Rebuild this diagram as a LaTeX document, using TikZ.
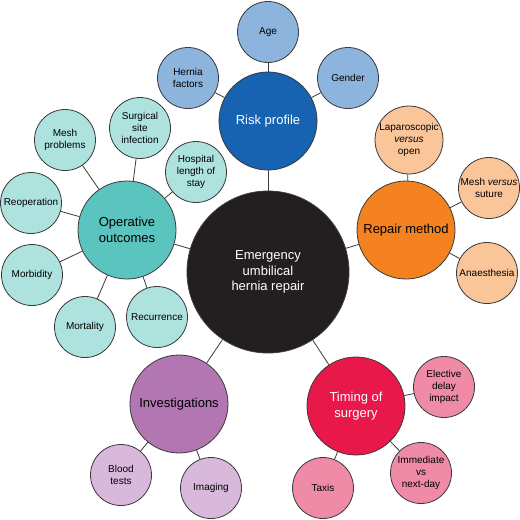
\documentclass[tikz,border=0pt]{standalone}
\usepackage{fontspec}
\setmainfont{Liberation Sans}
\definecolor{riskdark}{HTML}{1763B1}
\definecolor{risklight}{HTML}{8DB4DD}
\definecolor{opdark}{HTML}{5CC4BE}
\definecolor{oplight}{HTML}{AEE2DE}
\definecolor{repdark}{HTML}{F58220}
\definecolor{replight}{HTML}{FBC59A}
\definecolor{timdark}{HTML}{E8184A}
\definecolor{timlight}{HTML}{F08BA7}
\definecolor{invdark}{HTML}{B276B3}
\definecolor{invlight}{HTML}{D9B9DB}
\definecolor{hubblack}{HTML}{231F20}
\definecolor{edgegray}{HTML}{3A3A3A}
\tikzset{
  bub/.style={circle, draw=edgegray, line width=0.8pt, inner sep=0pt, align=center},
  leaf/.style={bub, minimum size=61pt, font=\fontsize{10}{12}\selectfont, text=black},
  hub/.style={bub, minimum size=98pt, font=\fontsize{13}{15.5}\selectfont},
  core/.style={bub, minimum size=162pt, fill=hubblack, text=white, font=\fontsize{13}{15.5}\selectfont},
  link/.style={draw=edgegray, line width=0.8pt}
}
\begin{document}
\begin{tikzpicture}[x=1pt,y=-1pt]
\useasboundingbox (0,0) rectangle (520,520);
% centre
\node[core] (C) at (268,272) {Emergency\\umbilical\\hernia repair};
% risk profile
\node[hub, fill=riskdark, text=white] (risk) at (268,121) {Risk profile};
\node[leaf, fill=risklight] (age) at (268,32) {Age};
\node[leaf, fill=risklight] (gender) at (348,78) {Gender};
\node[leaf, fill=risklight] (hernia) at (188,78) {Hernia\\factors};
% operative outcomes
\node[hub, fill=opdark, text=black] (op) at (127,230) {Operative\\outcomes};
\node[leaf, fill=oplight] (ssi) at (140,128) {Surgical\\site\\infection};
\node[leaf, fill=oplight] (mesh) at (65,140) {Mesh\\problems};
\node[leaf, fill=oplight] (hosp) at (196,172) {Hospital\\length of\\stay};
\node[leaf, fill=oplight] (reop) at (31,203) {Reoperation};
\node[leaf, fill=oplight] (morb) at (32,275) {Morbidity};
\node[leaf, fill=oplight] (mort) at (85,327) {Mortality};
\node[leaf, fill=oplight] (recur) at (157,317) {Recurrence};
% investigations
\node[hub, fill=invdark, text=black] (inv) at (179,404) {Investigations};
\node[leaf, fill=invlight] (blood) at (121,475) {Blood\\tests};
\node[leaf, fill=invlight] (imag) at (211,488) {Imaging};
% timing
\node[hub, fill=timdark, text=white] (tim) at (356,406) {Timing of\\surgery};
\node[leaf, fill=timlight] (elec) at (444,387) {Elective\\delay\\impact};
\node[leaf, fill=timlight] (imm) at (421,473) {Immediate\\vs\\next-day};
\node[leaf, fill=timlight] (taxis) at (323,488) {Taxis};
% repair method
\node[hub, fill=repdark, text=black] (rep) at (406,230) {Repair method};
\node[leaf, fill=replight] (lap) at (409,140) {Laparoscopic\\\textit{versus}\\open};
\node[leaf, fill=replight] (meshv) at (489,188) {Mesh \textit{versus}\\suture};
\node[leaf, fill=replight] (anaes) at (487,273) {Anaesthesia};
% connectors
\draw[link] (C) -- (risk);
\draw[link] (C) -- (op);
\draw[link] (C) -- (inv);
\draw[link] (C) -- (tim);
\draw[link] (C) -- (rep);
\draw[link] (risk) -- (age);
\draw[link] (risk) -- (gender);
\draw[link] (risk) -- (hernia);
\draw[link] (op) -- (ssi);
\draw[link] (op) -- (mesh);
\draw[link] (op) -- (hosp);
\draw[link] (op) -- (reop);
\draw[link] (op) -- (morb);
\draw[link] (op) -- (mort);
\draw[link] (op) -- (recur);
\draw[link] (inv) -- (blood);
\draw[link] (inv) -- (imag);
\draw[link] (tim) -- (elec);
\draw[link] (tim) -- (imm);
\draw[link] (tim) -- (taxis);
\draw[link] (rep) -- (lap);
\draw[link] (rep) -- (meshv);
\draw[link] (rep) -- (anaes);
\end{tikzpicture}
\end{document}
